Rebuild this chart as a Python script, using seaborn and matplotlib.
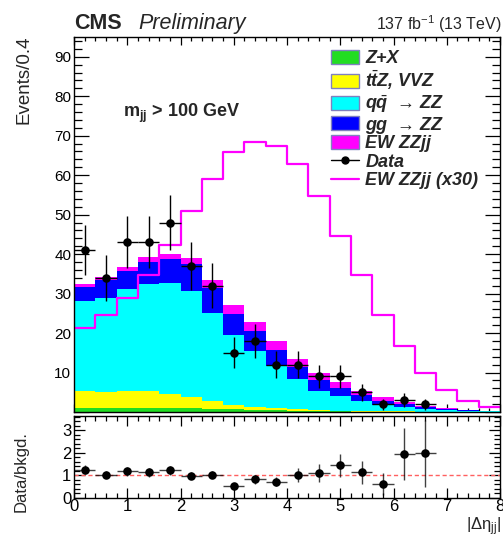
import numpy as np
import pandas as pd
import matplotlib
matplotlib.use("Agg")
import matplotlib.pyplot as plt
import seaborn as sns
from matplotlib.patches import Patch
from matplotlib.lines import Line2D
from matplotlib.ticker import MultipleLocator, FuncFormatter

# ---------------- data ----------------
bin_edges = [0.0, 0.4, 0.8, 1.2, 1.6, 2.0, 2.4, 2.8, 3.2, 3.6, 4.0,
             4.4, 4.8, 5.2, 5.6, 6.0, 6.4, 6.8, 7.2, 7.6, 8.0]

zx = [0.9, 0.9, 0.9, 0.9, 0.9, 0.9, 0.8, 0.7, 0.5, 0.4,
      0.3, 0.2, 0.15, 0.1, 0.1, 0.05, 0.05, 0.03, 0.02, 0.01]
ttz_vvz = [4.4, 4.2, 4.4, 4.4, 3.7, 2.8, 1.9, 1.1, 0.8, 0.5,
           0.35, 0.25, 0.2, 0.15, 0.1, 0.08, 0.05, 0.04, 0.02, 0.02]
qq_zz = [22.7, 23.8, 25.8, 27.1, 28.1, 26.9, 22.5, 17.7, 14.2, 10.8,
         7.65, 4.95, 3.75, 2.65, 1.6, 1.07, 0.7, 0.33, 0.21, 0.12]
gg_zz = [3.7, 4.5, 4.7, 5.7, 6.0, 6.8, 6.2, 5.4, 5.1, 4.1,
         3.1, 2.8, 2.1, 1.3, 1.1, 0.85, 0.45, 0.3, 0.15, 0.1]
ew_zzjj = [0.7, 0.8, 1.0, 1.2, 1.4, 1.7, 2.0, 2.2, 2.3, 2.2,
           2.1, 1.8, 1.5, 1.2, 0.8, 0.55, 0.35, 0.2, 0.1, 0.05]
ew_zzjj_x30 = [21.2, 24.6, 28.8, 34.6, 42.4, 51.0, 59.1, 65.8, 68.5, 67.4,
               62.8, 54.6, 44.5, 34.7, 24.6, 16.6, 10.0, 5.6, 2.9, 1.3]

data_x = [0.2, 0.6, 1.0, 1.4, 1.8, 2.2, 2.6, 3.0, 3.4, 3.8, 4.2,
          4.6, 5.0, 5.4, 5.8, 6.2, 6.6]
data_y = [41, 34, 43, 43, 48, 37, 32, 15, 18, 12, 12, 9, 9, 5, 2, 3, 2]
data_err = [6.4, 5.8, 6.6, 6.6, 6.9, 6.1, 5.7, 3.9, 4.2, 3.5, 3.5,
            3.0, 3.0, 2.2, 1.4, 1.7, 1.4]

ratio_y = [1.26, 1.03, 1.18, 1.13, 1.23, 0.98, 1.03, 0.53, 0.83, 0.72,
           1.01, 1.10, 1.44, 1.13, 0.62, 1.94, 1.98]
ratio_err = [0.18, 0.15, 0.19, 0.19, 0.19, 0.15, 0.16, 0.15, 0.2, 0.2,
             0.32, 0.4, 0.5, 0.52, 0.49, 1.16, 1.48]

comp_names = ["EW ZZjj", "gg → ZZ", "qq → ZZ", "ttZ, VVZ", "Z+X"]
comp_colors = ["#ff00ff", "#0000ff", "#00ffff", "#ffff00", "#22dd22"]
legend_labels = ["Z+X", r"$t\bar{t}$Z, VVZ", r"$q\bar{q}$  → ZZ", "gg  → ZZ", "EW ZZjj"]

# ---------------- style ----------------
sns.set_theme(style="ticks")
plt.rcParams["font.family"] = ["Liberation Sans", "DejaVu Sans"]
plt.rcParams["mathtext.fontset"] = "custom"
plt.rcParams["mathtext.rm"] = "Liberation Sans"
plt.rcParams["mathtext.it"] = "Liberation Sans:italic:bold"
plt.rcParams["mathtext.bf"] = "Liberation Sans:bold"

W, H = 503, 539
fig = plt.figure(figsize=(W / 100, H / 100), dpi=100)
fig.patch.set_facecolor("white")

def fx(px):
    return px / W

def fy(py):
    return 1 - py / H

ax = fig.add_axes([fx(74), fy(412), fx(500) - fx(74), fy(37) - fy(412)])
axr = fig.add_axes([fx(74), fy(498), fx(500) - fx(74), fy(416) - fy(498)])

edges = np.array(bin_edges)
centers = (edges[:-1] + edges[1:]) / 2
nb = len(centers)

comps = [ew_zzjj, gg_zz, qq_zz, ttz_vvz, zx]
df = pd.DataFrame({
    "x": np.tile(centers, len(comps)),
    "w": np.concatenate([np.array(c, dtype=float) for c in comps]),
    "comp": np.repeat(comp_names, nb),
})
palette = dict(zip(comp_names, comp_colors))

sns.histplot(data=df, x="x", weights="w", hue="comp", hue_order=comp_names,
             multiple="stack", bins=list(bin_edges), element="step", fill=True,
             alpha=1, linewidth=0, palette=palette, legend=False, ax=ax)

df_ew = pd.DataFrame({"x": centers, "w": ew_zzjj_x30})
sns.histplot(data=df_ew, x="x", weights="w", bins=list(bin_edges), element="step",
             fill=False, color="#ff00ff", linewidth=1.6, ax=ax)

ax.errorbar(data_x, data_y, yerr=data_err, xerr=0.2, fmt="none",
            ecolor="black", elinewidth=1.0, capsize=0, zorder=5)
sns.scatterplot(x=data_x, y=data_y, color="black", s=38, edgecolor="black",
                linewidth=0, zorder=6, ax=ax)

ax.set_xlim(0, 8)
ax.set_ylim(0, 95)
ax.set_xlabel("")
ax.set_ylabel("")
ax.xaxis.set_major_locator(MultipleLocator(1))
ax.xaxis.set_minor_locator(MultipleLocator(0.2))
ax.yaxis.set_major_locator(MultipleLocator(10))
ax.yaxis.set_minor_locator(MultipleLocator(2))
ax.yaxis.set_major_formatter(FuncFormatter(lambda v, p: "" if v == 0 else f"{v:g}"))
ax.tick_params(axis="both", which="both", direction="in", top=True, right=True,
               labelbottom=False, labelsize=11, colors="black", pad=2, width=0.9)
ax.tick_params(axis="x", which="major", length=5.8)
ax.tick_params(axis="x", which="minor", length=2.9)
ax.tick_params(axis="y", which="major", length=11)
ax.tick_params(axis="y", which="minor", length=5.5)
for s in ax.spines.values():
    s.set_linewidth(1.0)
    s.set_color("black")

# legend
handles = []
for col in ["#22dd22", "#ffff00", "#00ffff", "#0000ff", "#ff00ff"]:
    handles.append(Patch(facecolor=col, edgecolor="#8080c0", linewidth=1.0))
handles.append(Line2D([0], [0], color="black", marker="o", markersize=5, linewidth=1))
handles.append(Line2D([0], [0], color="#ff00ff", linewidth=1.6))
labels = legend_labels + ["Data", "EW ZZjj (x30)"]
leg = ax.legend(handles, labels, loc="upper left",
                bbox_to_anchor=(fx(331), fy(50)), bbox_transform=fig.transFigure,
                frameon=False, borderpad=0, borderaxespad=0, labelspacing=0.08,
                handlelength=1.55, handleheight=0.8, handletextpad=0.35,
                prop={"family": ["Liberation Sans", "DejaVu Sans"], "weight": "bold",
                      "style": "italic", "size": 13})

fig.text(fx(123), fy(113), r"$\mathbf{m_{jj}}$ > 100 GeV",
         fontsize=13, fontweight="bold", ha="left", va="center")

# header
fig.text(fx(74), fy(29), "CMS", fontsize=15.5, fontweight="bold", ha="left", va="baseline")
fig.text(fx(138), fy(29), "Preliminary", fontsize=15.5, fontstyle="italic", ha="left", va="baseline")
fig.text(fx(502), fy(30), r"137 fb$^{\mathregular{-1}}$ (13 TeV)", fontsize=11.5,
         ha="right", va="baseline")

fig.text(fx(24), fy(35), "Events/0.4", rotation=90, fontsize=13.5, ha="center", va="top")

# ratio panel
axr.axhline(1.0, color="#ff6060", linestyle=(0, (3, 2)), linewidth=1.0, zorder=1)
axr.errorbar(data_x, ratio_y, yerr=ratio_err, xerr=0.2, fmt="none",
             ecolor="black", elinewidth=1.0, capsize=0, zorder=5, alpha=0.75)
sns.scatterplot(x=data_x, y=ratio_y, color="black", s=38, linewidth=0, zorder=6, ax=axr)
axr.set_xlim(0, 8)
axr.set_ylim(0, 3.63)
axr.set_xlabel("")
axr.set_ylabel("")
axr.xaxis.set_major_locator(MultipleLocator(1))
axr.xaxis.set_minor_locator(MultipleLocator(0.2))
axr.yaxis.set_major_locator(MultipleLocator(1))
axr.yaxis.set_minor_locator(MultipleLocator(0.2))
axr.tick_params(axis="both", which="both", direction="in", top=True, right=True,
                labelsize=12, colors="black", width=0.9)
axr.tick_params(axis="x", which="major", length=7, pad=1)
axr.tick_params(axis="x", which="minor", length=3.5)
axr.tick_params(axis="y", which="major", length=8, pad=2)
axr.tick_params(axis="y", which="minor", length=4.3)
for s in axr.spines.values():
    s.set_linewidth(1.0)
    s.set_color("black")

fig.text(fx(21), fy(472), "Data/bkgd.", rotation=90, fontsize=12, ha="center", va="center")
fig.text(fx(501), fy(538), r"$\mathrm{|\Delta\eta_{jj}|}$", fontsize=12, ha="right", va="bottom")

fig.savefig("out.png", dpi=100, facecolor="white")
